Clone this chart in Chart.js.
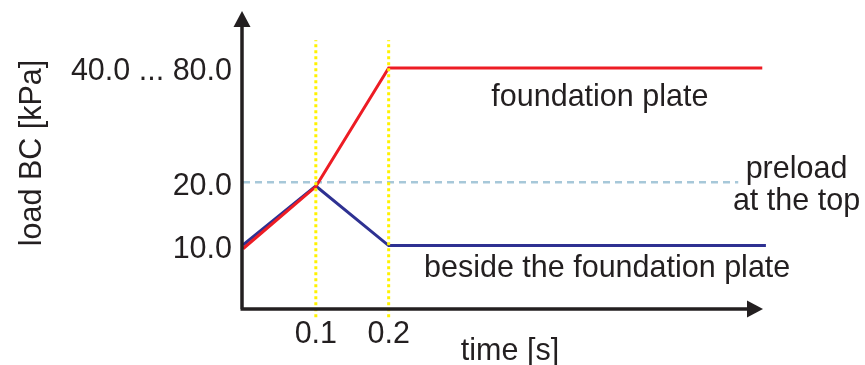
<!DOCTYPE html>
<html>
<head>
<meta charset="utf-8">
<script src="https://cdn.jsdelivr.net/npm/chart.js@4.4.1/dist/chart.umd.min.js"></script>
<style>
  html, body { margin: 0; padding: 0; background: #fff; }
  #wrap { width: 865px; height: 365px; }
</style>
</head>
<body>
<div id="wrap"><canvas id="loadChart" width="865" height="365"></canvas></div>
<script>
// load history: time in s, load in schematic kPa units
const timeS = [0, 0.1, 0.2, 0.713];
const plateLoad = [9.5, 19.3, 38, 38];
const besideTime = [0, 0.1, 0.2, 0.718];
const besideLoad = [10.1, 19.4, 10, 10];
const preloadTime = [0, 0.68];
const preloadLoad = [20, 20];
const markerTimes = [0.1, 0.2];
const markerSpan = [-1.3, 42.4];

const yTickValues = [10, 20, 38];
const yTickLabels = ['10.0', '20.0', '40.0 ... 80.0'];
const xTickValues = [0.1, 0.2];
const xTickLabels = ['0.1', '0.2'];

// curve notes, placed on the text baseline
const notes = [
  { text: 'foundation plate', x: 0.49, y: 32.0 },
  { text: 'preload', x: 0.76, y: 20.7 },
  { text: 'at the top', x: 0.76, y: 15.6 },
  { text: 'beside the foundation plate', x: 0.50, y: 5.05 }
];

const ink = '#231f20';
const font = '"Liberation Sans", Arial, sans-serif';
const fontSize = 30.5;

const pts = (xs, ys) => xs.map((x, i) => ({ x: x, y: ys[i] }));

// yellow dotted markers at the switching times
const markerSets = markerTimes.map(t => ({
  data: pts([t, t], markerSpan),
  borderColor: '#fff200',
  borderWidth: 3,
  borderDash: [3, 3],
  pointRadius: 0,
  clip: false
}));

// axes with arrow heads + titles + notes
const decor = {
  id: 'decor',
  afterDatasetsDraw(chart) {
    const c = chart.ctx, a = chart.chartArea;
    const xs = chart.scales.x, ys = chart.scales.y;
    const bottom = a.bottom, left = a.left - 1;
    c.save();
    c.strokeStyle = ink;
    c.fillStyle = ink;
    c.lineWidth = 3.5;
    c.beginPath();
    c.moveTo(left, bottom);
    c.lineTo(left, a.top + 14);
    c.moveTo(left - 1.5, bottom);
    c.lineTo(a.right - 14, bottom);
    c.stroke();
    c.beginPath();
    c.moveTo(left, a.top);
    c.lineTo(left - 8.5, a.top + 16);
    c.lineTo(left + 8.5, a.top + 16);
    c.closePath();
    c.fill();
    c.beginPath();
    c.moveTo(a.right, bottom);
    c.lineTo(a.right - 16, bottom - 8.5);
    c.lineTo(a.right - 16, bottom + 8.5);
    c.closePath();
    c.fill();

    c.font = fontSize + 'px ' + font;
    c.textAlign = 'center';
    c.textBaseline = 'alphabetic';
    notes.forEach(n => {
      c.fillText(n.text, xs.getPixelForValue(n.x), ys.getPixelForValue(n.y));
    });

    c.fillText('time [s]', 510, 360);
    c.translate(41, 153);
    c.rotate(-Math.PI / 2);
    c.fillText('load BC [kPa]', 0, 0);
    c.restore();
  }
};

new Chart(document.getElementById('loadChart').getContext('2d'), {
  type: 'line',
  data: {
    datasets: [
      ...markerSets,
      {
        label: 'foundation plate',
        data: pts(timeS, plateLoad),
        borderColor: '#ed1c24',
        borderWidth: 3,
        pointRadius: 0,
        clip: false
      },
      {
        label: 'beside the foundation plate',
        data: pts(besideTime, besideLoad),
        borderColor: '#2e3192',
        borderWidth: 3,
        pointRadius: 0,
        clip: false
      },
      {
        label: 'preload at the top',
        data: pts(preloadTime, preloadLoad),
        borderColor: '#a7c8d9',
        borderWidth: 2.5,
        borderDash: [7, 5],
        pointRadius: 0,
        clip: false
      }
    ]
  },
  options: {
    responsive: false,
    animation: false,
    events: [],
    layout: { padding: { top: 11, right: 102, left: 0, bottom: 0 } },
    plugins: { legend: { display: false }, tooltip: { enabled: false } },
    scales: {
      x: {
        type: 'linear',
        min: 0,
        max: 0.714,
        grid: { display: false, drawTicks: false },
        border: { display: false },
        afterBuildTicks: s => { s.ticks = xTickValues.map(v => ({ value: v })); },
        afterFit: s => { s.height = 56; s.paddingLeft = 0; s.paddingRight = 0; },
        ticks: {
          padding: 7,
          color: ink,
          font: { family: font, size: fontSize },
          callback: v => xTickLabels[xTickValues.indexOf(v)]
        }
      },
      y: {
        min: 0,
        max: 47,
        grid: { display: false, drawTicks: false },
        border: { display: false },
        afterBuildTicks: s => { s.ticks = yTickValues.map(v => ({ value: v })); },
        afterFit: s => { s.width = 243; s.paddingTop = 0; s.paddingBottom = 0; },
        ticks: {
          padding: 11,
          labelOffset: 4,
          color: ink,
          font: { family: font, size: fontSize },
          callback: v => yTickLabels[yTickValues.indexOf(v)]
        }
      }
    }
  },
  plugins: [decor]
});
</script>
</body>
</html>
